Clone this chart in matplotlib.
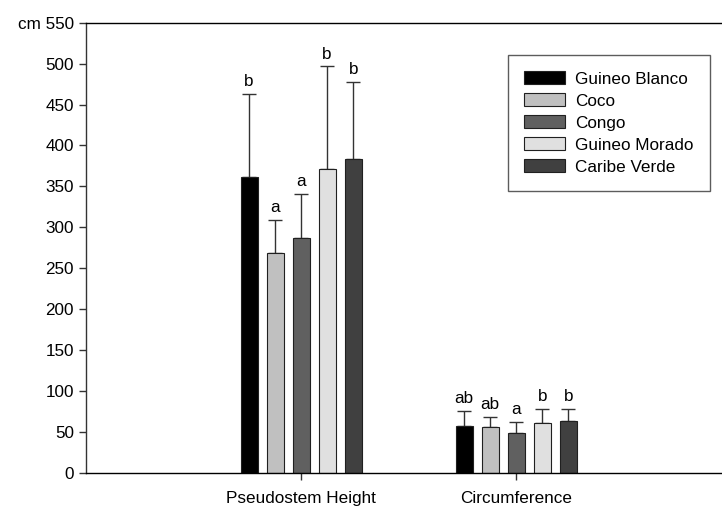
import numpy as np
import matplotlib.pyplot as plt

plt.rcParams['font.family'] = ['Liberation Sans', 'DejaVu Sans']

groups = ["Pseudostem Height", "Circumference"]
varieties = ["Guineo Blanco", "Coco", "Congo", "Guineo Morado", "Caribe Verde"]
colors = ["#000000", "#c0c0c0", "#606060", "#e0e0e0", "#404040"]

# mean values per variety (pseudostem, circumference)
means = {
    "Guineo Blanco": [361, 57],
    "Coco": [269, 55.5],
    "Congo": [287, 49],
    "Guineo Morado": [371.5, 60.5],
    "Caribe Verde": [383, 63],
}
# upper error (std)
errs = {
    "Guineo Blanco": [102, 18],
    "Coco": [40, 13],
    "Congo": [54, 13],
    "Guineo Morado": [125, 17.5],
    "Caribe Verde": [95, 15],
}
letters = {
    "Guineo Blanco": ["b", "ab"],
    "Coco": ["a", "ab"],
    "Congo": ["a", "a"],
    "Guineo Morado": ["b", "b"],
    "Caribe Verde": ["b", "b"],
}

fs = 12.3

fig = plt.figure(figsize=(7.22, 5.09), dpi=100)
ax = fig.add_axes([0.119, 0.0713, 0.881, 0.8841])

x = np.array([1.0, 2.0])
step = 0.121
width = 0.079
for i, v in enumerate(varieties):
    xp = x + (i - 2) * step
    ax.bar(xp, means[v], width, color=colors[i], edgecolor="#202020",
           linewidth=0.8, label=v, zorder=2)
    ax.errorbar(xp, means[v], yerr=[np.zeros(2), errs[v]], fmt="none",
                ecolor="#333333", elinewidth=1, capsize=4.7, capthick=1, zorder=1)
    for j in range(2):
        ax.text(xp[j], means[v][j] + errs[v][j] + 6, letters[v][j],
                ha="center", va="bottom", fontsize=fs)

ax.set_xlim(0, 2.956)
ax.set_ylim(0, 550)
ax.set_yticks(np.arange(0, 551, 50))
ylabels = [str(t) for t in range(0, 551, 50)]
ylabels[-1] = "cm 550"
ax.set_yticklabels(ylabels)
ax.set_xticks(x)
ax.set_xticklabels(groups)
ax.tick_params(axis="both", labelsize=fs, direction="out", length=5,
               width=1, color="#333333")
ax.tick_params(axis="x", pad=8)
ax.spines["right"].set_visible(False)
for s in ["left", "bottom", "top"]:
    ax.spines[s].set_linewidth(1)
ax.spines["left"].set_color("#333333")

leg = ax.legend(loc="upper right", bbox_to_anchor=(0.981, 0.928), fontsize=fs,
                frameon=True, fancybox=False, edgecolor="#333333",
                borderaxespad=0, handlelength=2.4, handleheight=0.8,
                borderpad=0.95, labelspacing=0.38, handletextpad=0.6)
leg.get_frame().set_linewidth(1)

plt.savefig("out.png", dpi=100)
